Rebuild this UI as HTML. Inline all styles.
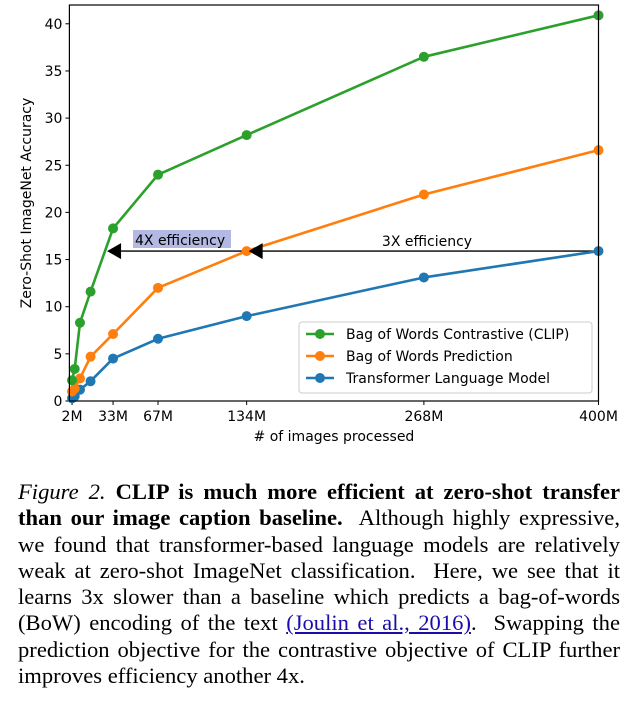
<!DOCTYPE html>
<html><head><meta charset="utf-8"><style>
body{margin:0;background:#fff;width:633px;height:705px;overflow:hidden;position:relative}
svg{position:absolute;left:0;top:0}
.cap{position:absolute;left:18px;width:602px;font-family:"Liberation Serif",serif;font-size:22.6px;line-height:26.3px;top:479px;color:#000}
.ln{display:block;text-align:justify;text-align-last:justify;white-space:nowrap}
.last{text-align-last:left}
a{color:#1a0dab;text-decoration:underline}
</style></head><body>
<svg width="633" height="470" font-family="'DejaVu Sans','Liberation Sans',sans-serif" id="chart"></svg>
<div class="cap">
<span class="ln"><i>Figure 2.</i> <b>CLIP is much more efficient at zero-shot transfer</b></span>
<span class="ln"><b>than our image caption baseline.</b>&nbsp; Although highly expressive,</span>
<span class="ln">we found that transformer-based language models are relatively</span>
<span class="ln">weak at zero-shot ImageNet classification.&nbsp; Here, we see that it</span>
<span class="ln">learns 3x slower than a baseline which predicts a bag-of-words</span>
<span class="ln">(BoW) encoding of the text <a>(Joulin et al., 2016)</a>.&nbsp; Swapping the</span>
<span class="ln">prediction objective for the contrastive objective of CLIP further</span>
<span class="ln last">improves efficiency another 4x.</span>
</div>
<script>
const xValues=[2,4,8,16,33,67,134,268,400];
const clipValues=[2.2,3.4,8.3,11.6,18.3,24.0,28.2,36.5,40.9];
const bowValues=[1.0,1.3,2.4,4.7,7.1,12.0,15.9,21.9,26.6];
const tlmValues=[0.3,0.5,1.2,2.1,4.5,6.6,9.0,13.1,15.9];
const xTicks=[2,33,67,134,268,400];
const xTickLabels=["2M","33M","67M","134M","268M","400M"];
const yTicks=[0,5,10,15,20,25,30,35,40];
const seriesNames=["Bag of Words Contrastive (CLIP)","Bag of Words Prediction","Transformer Language Model"];

const NS="http://www.w3.org/2000/svg";
const svg=document.getElementById('chart');
const L=69.4,R=598.5,T=5,B=401;
const X=v=>L+(v-0)/400*(R-L);
const Y=v=>B-v*9.43;
function mk(tag,attrs,parent){const e=document.createElementNS(NS,tag);for(const k in attrs)e.setAttribute(k,attrs[k]);(parent||svg).appendChild(e);return e;}

yTicks.forEach(t=>{
  const g=mk('g',{});
  
  
  mk('line',{x1:L-4,x2:L,y1:Y(t),y2:Y(t),stroke:'#000','stroke-width':1},g);
  const tx=mk('text',{x:L-7,y:Y(t)+5,'text-anchor':'end','font-size':14},g);tx.textContent=t;
});
xTicks.forEach((t,i)=>{
  const g=mk('g',{});
  
  
  mk('line',{x1:X(t),x2:X(t),y1:B,y2:B+4,stroke:'#000','stroke-width':1},g);
  const tx=mk('text',{x:X(t),y:B+20,'text-anchor':'middle','font-size':14},g);tx.textContent=xTickLabels[i];
});
const yt=mk('text',{x:0,y:0,transform:'translate(31,'+((T+B)/2)+') rotate(-90)','text-anchor':'middle','font-size':14});
yt.textContent='Zero-Shot ImageNet Accuracy';


const xt=mk('text',{x:(L+R)/2,y:B+40,'text-anchor':'middle','font-size':14});
xt.textContent='# of images processed';



const hb=mk('rect',{x:133,y:230,width:98,height:18,fill:'#b3b9e3'});


const a1=mk('line',{x1:X(134),x2:X(33)+8,y1:Y(bowValues[6]),y2:Y(bowValues[6]),stroke:'#000','stroke-width':1.3});


const a2=mk('line',{x1:X(400),x2:X(134)+8,y1:Y(tlmValues[8]),y2:Y(tlmValues[8]),stroke:'#000','stroke-width':1.3});


function head(x,y){const p=mk('polygon',{points:`${x},${y} ${x+14},${y-8} ${x+14},${y+8}`,fill:'#000'});}
const t4=mk('text',{x:135,y:245,'font-size':14});t4.textContent='4X efficiency';


const t3=mk('text',{x:427,y:246,'text-anchor':'middle','font-size':14});t3.textContent='3X efficiency';



const colors=['#2ca02c','#ff7f0e','#1f77b4'];
const data=[clipValues,bowValues,tlmValues];
const names=['series-clip','series-bow-prediction','series-transformer'];
[2,1,0].forEach(s=>{
  const g=mk('g',{});
  
  
  const pts=xValues.map((x,i)=>X(x)+','+Y(data[s][i])).join(' ');
  mk('polyline',{points:pts,fill:'none',stroke:colors[s],'stroke-width':2.6,'stroke-linejoin':'round'},g);
  xValues.forEach((x,i)=>{
    const c=mk('circle',{cx:X(x),cy:Y(data[s][i]),r:5,fill:colors[s]},g);
    
    
  });
});
head(X(33)-6,Y(bowValues[6]));
head(X(134)+2,Y(tlmValues[8]));

const sp=mk('rect',{x:L,y:T,width:R-L,height:B-T,fill:'none',stroke:'#000','stroke-width':1.2});



const lg=mk('g',{});


mk('rect',{x:299,y:322,width:293,height:71,rx:3,fill:'#fff','fill-opacity':0.85,stroke:'#ccc'},lg);
seriesNames.forEach((n,i)=>{
  const g=mk('g',{},lg);
  
  
  const y=334+i*22;
  mk('line',{x1:306,x2:334,y1:y,y2:y,stroke:colors[i],'stroke-width':2.6},g);
  mk('circle',{cx:320,cy:y,r:5,fill:colors[i]},g);
  const t=mk('text',{x:346,y:y+5,'font-size':14},g);t.textContent=n;
});
</script>
</body></html>
